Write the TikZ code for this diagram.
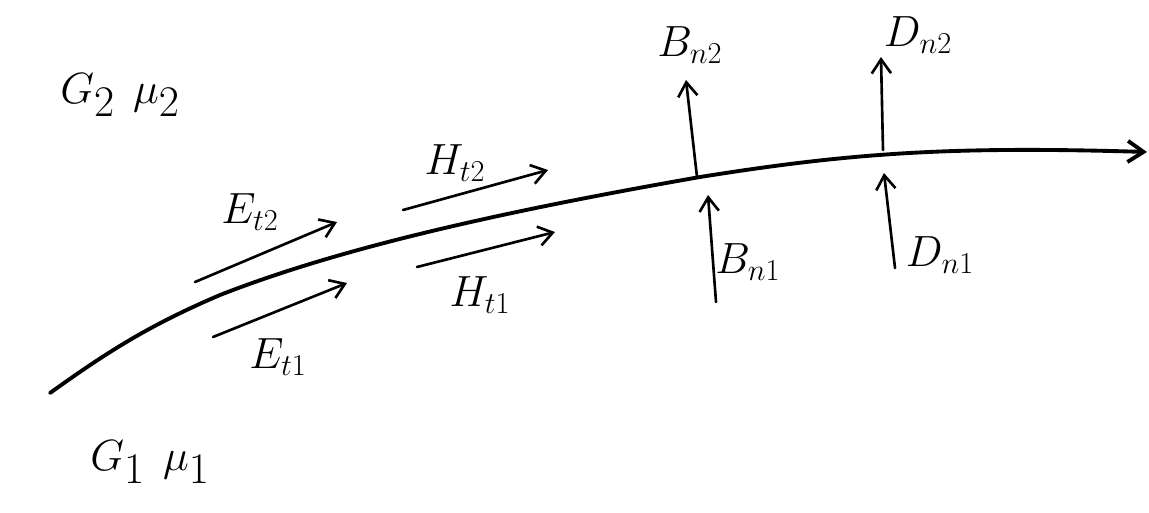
\documentclass[tikz,border=0pt]{standalone}
\usetikzlibrary{arrows.meta}
\begin{document}
\begin{tikzpicture}[x=0.02cm,y=-0.02cm,
  iface/.style={line width=2.2pt,line cap=round,-{Straight Barb[length=9pt,width=12pt]}},
  fvec/.style={line width=1.5pt,line cap=round,-{Straight Barb[length=8pt,width=11pt]}},
  lbl/.style={font=\fontsize{24}{28}\selectfont},
  med/.style={font=\fontsize{34}{38}\selectfont}]
\useasboundingbox (0,0) rectangle (1149,512);
% interface curve
\coordinate (s) at (50,393);
\coordinate (e) at (1147,152);
\draw[iface] (s) .. controls (110,350) and (150,325) .. (220,295)
  .. controls (340,248) and (500,212) .. (700,177)
  .. controls (850,153) and (950,146) .. (e);
% media labels
\node[med] (m2) at (120,95) {$G_2\ \mu_2$};
\node[med] (m1) at (150,462) {$G_1\ \mu_1$};
% tangential vectors
\coordinate (et2a) at (195,282); \coordinate (et2b) at (337,222);
\draw[fvec] (et2a) -- (et2b);
\node[lbl] (et2) at (250,212) {$E_{t2}$};
\coordinate (et1a) at (213,337); \coordinate (et1b) at (347,283);
\draw[fvec] (et1a) -- (et1b);
\node[lbl] (et1) at (278,357) {$E_{t1}$};
\coordinate (ht2a) at (403,210); \coordinate (ht2b) at (548,170);
\draw[fvec] (ht2a) -- (ht2b);
\node[lbl] (ht2) at (455,163) {$H_{t2}$};
\coordinate (ht1a) at (417,267); \coordinate (ht1b) at (555,232);
\draw[fvec] (ht1a) -- (ht1b);
\node[lbl] (ht1) at (480,295) {$H_{t1}$};
% normal vectors
\coordinate (bn2a) at (697,177); \coordinate (bn2b) at (686,80);
\draw[fvec] (bn2a) -- (bn2b);
\node[lbl] (bn2) at (690,45) {$B_{n2}$};
\coordinate (bn1a) at (716,302); \coordinate (bn1b) at (708,195);
\draw[fvec] (bn1a) -- (bn1b);
\node[lbl] (bn1) at (748,262) {$B_{n1}$};
\coordinate (dn2a) at (883,150); \coordinate (dn2b) at (881,57);
\draw[fvec] (dn2a) -- (dn2b);
\node[lbl] (dn2) at (918,35) {$D_{n2}$};
\coordinate (dn1a) at (895,268); \coordinate (dn1b) at (884,173);
\draw[fvec] (dn1a) -- (dn1b);
\node[lbl] (dn1) at (940,255) {$D_{n1}$};
\end{tikzpicture}
\end{document}
